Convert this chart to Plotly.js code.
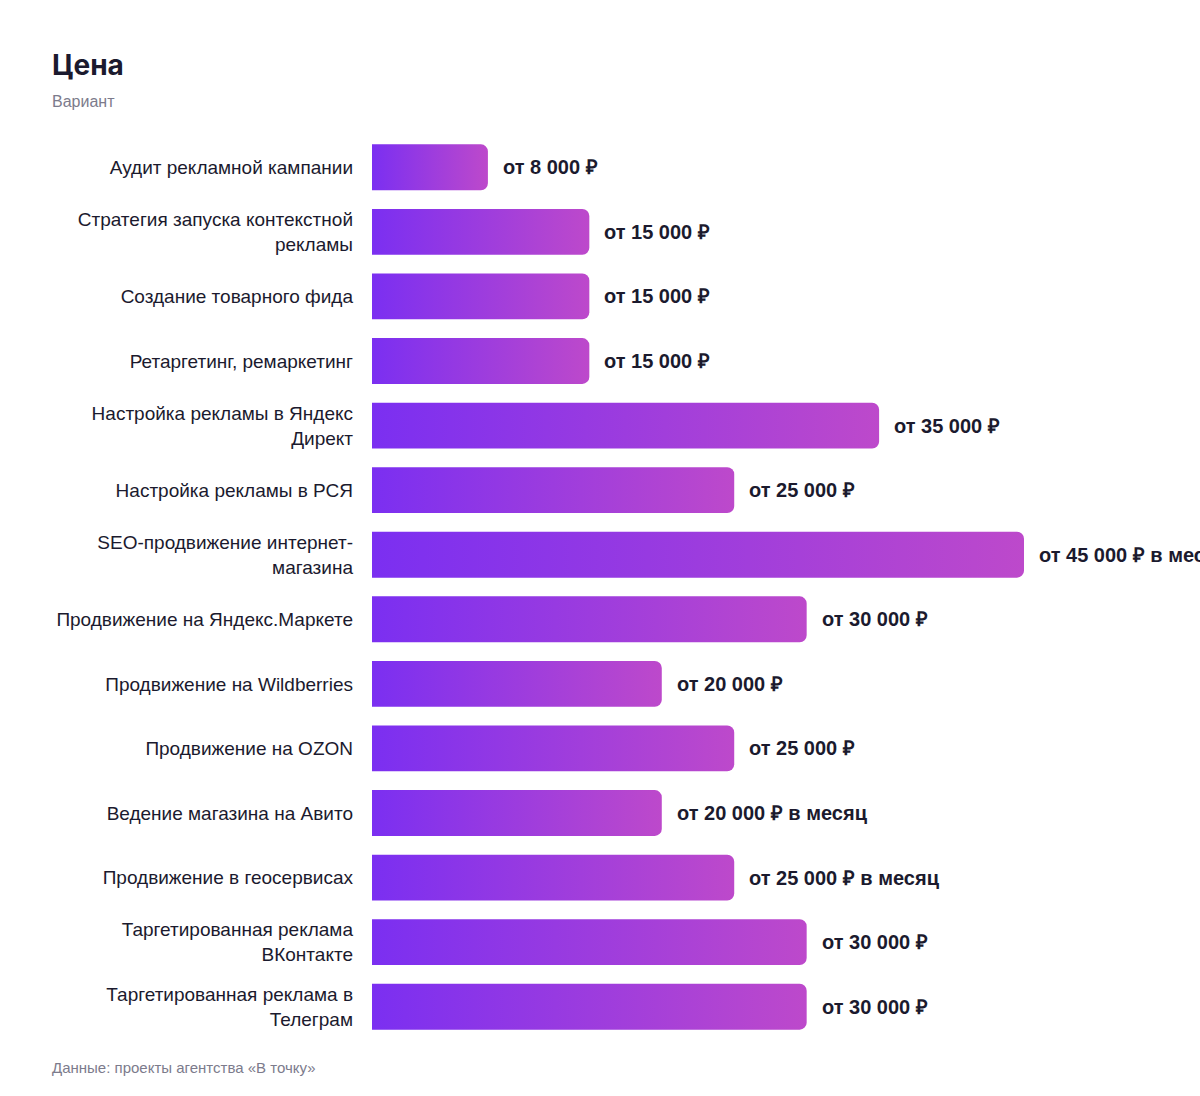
<!DOCTYPE html>
<html>
<head>
<meta charset="utf-8">
<script src="https://cdn.plot.ly/plotly-3.0.1.min.js"></script>
<style>
html,body{margin:0;padding:0;background:#fff;}
#chart{width:1200px;height:1096px;}
</style>
</head>
<body>
<div id="chart"></div>
<script>
const categories = [
  "Аудит рекламной кампании",
  "Стратегия запуска контекстной<br>рекламы",
  "Создание товарного фида",
  "Ретаргетинг, ремаркетинг",
  "Настройка рекламы в Яндекс<br>Директ",
  "Настройка рекламы в РСЯ",
  "SEO-продвижение интернет-<br>магазина",
  "Продвижение на Яндекс.Маркете",
  "Продвижение на Wildberries",
  "Продвижение на OZON",
  "Ведение магазина на Авито",
  "Продвижение в геосервисах",
  "Таргетированная реклама<br>ВКонтакте",
  "Таргетированная реклама в<br>Телеграм"
];
const prices = [8000, 15000, 15000, 15000, 35000, 25000, 45000, 30000, 20000, 25000, 20000, 25000, 30000, 30000];
const priceLabels = [
  "от 8 000 ₽",
  "от 15 000 ₽",
  "от 15 000 ₽",
  "от 15 000 ₽",
  "от 35 000 ₽",
  "от 25 000 ₽",
  "от 45 000 ₽ в месяц",
  "от 30 000 ₽",
  "от 20 000 ₽",
  "от 25 000 ₽",
  "от 20 000 ₽ в месяц",
  "от 25 000 ₽ в месяц",
  "от 30 000 ₽",
  "от 30 000 ₽"
];
const titleText = "Цена";
const subtitleText = "Вариант";
const sourceText = "Данные: проекты агентства «В точку»";

const W = 1200, H = 1096;
const mL = 372, mR = 0, mT = 135, mB = 57;
const plotW = W - mL - mR, plotH = H - mT - mB;
const px2x = p => (p - mL) / plotW;
const px2y = p => (H - mB - p) / plotH;

const dark = "#1b1a2e";
const grey = "#7c7b8c";

const annotations = prices.map((v, i) => ({
  x: v, y: categories[i], xref: "x", yref: "y",
  text: "<b>" + priceLabels[i] + "</b>",
  showarrow: false, xanchor: "left", yanchor: "middle", xshift: 13,
  font: {family: "Liberation Sans, Arial, sans-serif", size: 20, color: dark}
}));
annotations.push(
  {xref: "paper", yref: "paper", x: px2x(50), y: px2y(65), xanchor: "left", yanchor: "middle",
   text: "<b>" + titleText + "</b>", showarrow: false,
   font: {family: "Inter, Liberation Sans, sans-serif", size: 28, color: dark}},
  {xref: "paper", yref: "paper", x: px2x(50), y: px2y(102), xanchor: "left", yanchor: "middle",
   text: subtitleText, showarrow: false,
   font: {family: "Liberation Sans, Arial, sans-serif", size: 16, color: grey}},
  {xref: "paper", yref: "paper", x: px2x(50), y: px2y(1067), xanchor: "left", yanchor: "middle",
   text: sourceText, showarrow: false,
   font: {family: "Liberation Sans, Arial, sans-serif", size: 15, color: grey}}
);

const data = [{
  type: "bar", orientation: "h",
  x: prices, y: categories,
  width: 0.71,
  marker: {color: "#7b2ff0", cornerradius: 7},
  hoverinfo: "skip"
}];

const layout = {
  width: W, height: H,
  margin: {l: mL, r: mR, t: mT, b: mB, pad: 0},
  paper_bgcolor: "#fff", plot_bgcolor: "#fff",
  showlegend: false, hovermode: false,
  xaxis: {visible: false, range: [0, 45000 * plotW / 652], fixedrange: true},
  yaxis: {
    autorange: "reversed", showgrid: false, zeroline: false, showline: false,
    ticks: "", ticklabelstandoff: 18,
    tickfont: {family: "Liberation Sans, Arial, sans-serif", size: 19, color: dark},
    fixedrange: true
  },
  annotations: annotations
};

Plotly.newPlot("chart", data, layout, {displayModeBar: false, staticPlot: true}).then(gd => {
  const svg = gd.querySelector("svg.main-svg");
  const ns = "http://www.w3.org/2000/svg";
  let defs = svg.querySelector("defs");
  if (!defs) { defs = document.createElementNS(ns, "defs"); svg.insertBefore(defs, svg.firstChild); }
  const lg = document.createElementNS(ns, "linearGradient");
  lg.setAttribute("id", "barGrad");
  lg.setAttribute("x1", "0"); lg.setAttribute("y1", "0");
  lg.setAttribute("x2", "1"); lg.setAttribute("y2", "0");
  [["0", "#7b2ff1"], ["1", "#bd49cb"]].forEach(([o, c]) => {
    const s = document.createElementNS(ns, "stop");
    s.setAttribute("offset", o); s.setAttribute("stop-color", c);
    lg.appendChild(s);
  });
  defs.appendChild(lg);
  gd.querySelectorAll(".barlayer .point path").forEach(p => {
    p.style.fill = "url(#barGrad)";
  });
});
</script>
</body>
</html>
